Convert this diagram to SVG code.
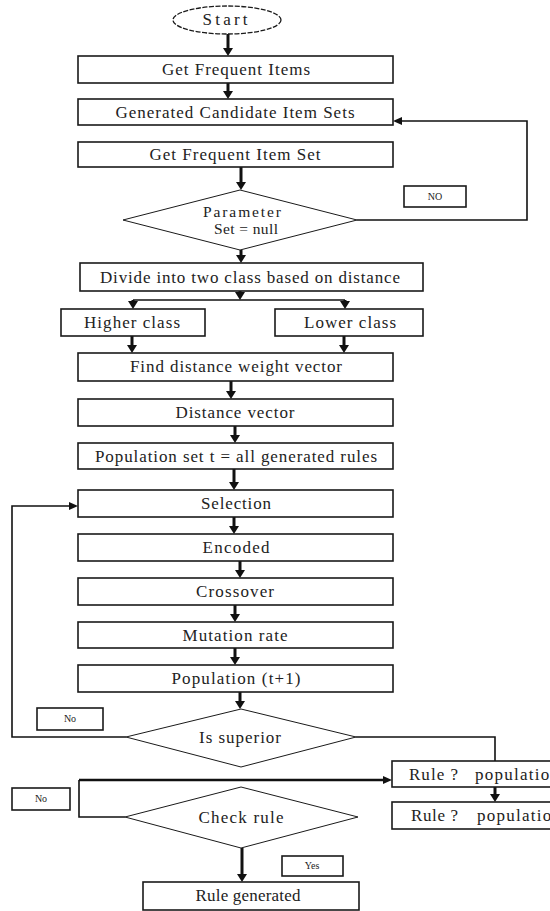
<svg xmlns="http://www.w3.org/2000/svg" width="550" height="911" viewBox="0 0 550 911">
<defs>
<style>
.box{fill:#fff;stroke:#1a1a1a;stroke-width:1.6}
.dia{fill:#fff;stroke:#1a1a1a;stroke-width:1}
.t{font-family:"Liberation Serif","Times New Roman",serif;font-size:17px;fill:#222;text-anchor:middle}
.m{font-size:15.5px}
.s{font-size:10px}
.l{text-anchor:start}
.arr{stroke:#111;stroke-width:3;fill:none}
.ln{stroke:#111;stroke-width:1.6;fill:none}
</style>
<marker id="ah" viewBox="0 0 8 10" markerWidth="8" markerHeight="10" refX="0" refY="5" orient="auto" markerUnits="userSpaceOnUse">
<path d="M0,0 L8,5 L0,10 z" fill="#111"/>
</marker>
<marker id="ah2" viewBox="0 0 9 8" markerWidth="9" markerHeight="8" refX="0" refY="4" orient="auto" markerUnits="userSpaceOnUse">
<path d="M0,0 L9,4 L0,8 z" fill="#111"/>
</marker>
</defs>
<rect width="550" height="911" fill="#fff"/>

<g id="connectors">
<line class="arr" x1="228" y1="34" x2="228" y2="48" marker-end="url(#ah)"/>
<line class="arr" x1="228" y1="83" x2="228" y2="91" marker-end="url(#ah)"/>
<line class="arr" x1="241" y1="167" x2="241" y2="182" marker-end="url(#ah)"/>
<polyline class="ln" points="357,220 527,220 527,121 402,121" marker-end="url(#ah2)"/>
<line class="arr" x1="241" y1="250" x2="241" y2="255" marker-end="url(#ah)"/>
<line class="arr" x1="240" y1="291" x2="240" y2="292" marker-end="url(#ah)"/>
<line class="ln" x1="133" y1="300" x2="345" y2="300"/>
<line class="arr" x1="133" y1="300" x2="133" y2="301" marker-end="url(#ah)"/>
<line class="arr" x1="345" y1="300" x2="345" y2="301" marker-end="url(#ah)"/>
<line class="arr" x1="132" y1="336" x2="132" y2="345" marker-end="url(#ah)"/>
<line class="arr" x1="344" y1="336" x2="344" y2="345" marker-end="url(#ah)"/>
<line class="arr" x1="231" y1="381" x2="231" y2="391" marker-end="url(#ah)"/>
<line class="arr" x1="235" y1="426" x2="235" y2="435" marker-end="url(#ah)"/>
<line class="arr" x1="234" y1="469" x2="234" y2="482" marker-end="url(#ah)"/>
<line class="arr" x1="234" y1="517" x2="234" y2="526" marker-end="url(#ah)"/>
<line class="arr" x1="240" y1="561" x2="240" y2="570" marker-end="url(#ah)"/>
<line class="arr" x1="235" y1="605" x2="235" y2="614" marker-end="url(#ah)"/>
<line class="arr" x1="235" y1="648" x2="235" y2="657" marker-end="url(#ah)"/>
<line class="arr" x1="240" y1="692" x2="240" y2="701" marker-end="url(#ah)"/>
<polyline class="ln" points="126,737 12,737 12,506 69,506" marker-end="url(#ah2)"/>
<polyline class="ln" points="356,737 495,737 495,761"/>
<line class="arr" x1="495" y1="787" x2="495" y2="794" marker-end="url(#ah)"/>
<polyline class="ln" points="125,817 79,817 79,780"/>
<line class="arr" x1="79" y1="780" x2="383" y2="780" style="stroke-width:2.4" marker-end="url(#ah2)"/>
<line class="arr" x1="242" y1="848" x2="242" y2="874" marker-end="url(#ah)"/>
</g>

<g id="start">
<ellipse cx="227" cy="20" rx="54" ry="14" fill="#fff" stroke="#1a1a1a" stroke-width="1.3" stroke-dasharray="5 1.5"/>
<text class="t" x="225" y="25" textLength="45" lengthAdjust="spacing">Start</text>
</g>
<g id="get-frequent-items">
<rect class="box" x="78" y="56" width="315" height="27"/>
<text class="t" x="236" y="75" textLength="148" lengthAdjust="spacing">Get Frequent Items</text>
</g>
<g id="generated-candidate">
<rect class="box" x="78" y="99" width="315" height="26"/>
<text class="t" x="235" y="118" textLength="239" lengthAdjust="spacing">Generated Candidate Item Sets</text>
</g>
<g id="get-frequent-item-set">
<rect class="box" x="78" y="142" width="315" height="25"/>
<text class="t" x="235" y="160" textLength="171" lengthAdjust="spacing">Get Frequent Item Set</text>
</g>
<g id="parameter">
<polygon class="dia" points="240,190 357,220 240,250 123,220"/>
<text class="t m" x="242" y="217" textLength="78" lengthAdjust="spacing">Parameter</text>
<text class="t m" x="246" y="234" textLength="64" lengthAdjust="spacing">Set = null</text>
</g>
<g id="no-label-1">
<rect class="box" x="404" y="186" width="62" height="21"/>
<text class="t s" x="435" y="200">NO</text>
</g>
<g id="divide">
<rect class="box" x="80" y="263" width="343" height="28"/>
<text class="t" x="250" y="283" textLength="300" lengthAdjust="spacing">Divide into two class based on distance</text>
</g>
<g id="higher-class">
<rect class="box" x="61" y="309" width="144" height="27"/>
<text class="t" x="132" y="328" textLength="96" lengthAdjust="spacing">Higher class</text>
</g>
<g id="lower-class">
<rect class="box" x="275" y="309" width="148" height="27"/>
<text class="t" x="350" y="328" textLength="92" lengthAdjust="spacing">Lower class</text>
</g>
<g id="find-distance">
<rect class="box" x="78" y="353" width="315" height="28"/>
<text class="t" x="236" y="372" textLength="212" lengthAdjust="spacing">Find distance weight vector</text>
</g>
<g id="distance-vector">
<rect class="box" x="78" y="399" width="315" height="27"/>
<text class="t" x="235" y="418" textLength="119" lengthAdjust="spacing">Distance vector</text>
</g>
<g id="population-set">
<rect class="box" x="78" y="443" width="315" height="26"/>
<text class="t" x="236" y="462" textLength="282" lengthAdjust="spacing">Population set t = all generated rules</text>
</g>
<g id="selection">
<rect class="box" x="78" y="490" width="315" height="27"/>
<text class="t" x="236" y="509" textLength="70" lengthAdjust="spacing">Selection</text>
</g>
<g id="encoded">
<rect class="box" x="78" y="534" width="315" height="27"/>
<text class="t" x="236" y="553" textLength="67" lengthAdjust="spacing">Encoded</text>
</g>
<g id="crossover">
<rect class="box" x="78" y="578" width="315" height="27"/>
<text class="t" x="235" y="597" textLength="78" lengthAdjust="spacing">Crossover</text>
</g>
<g id="mutation-rate">
<rect class="box" x="78" y="622" width="315" height="26"/>
<text class="t" x="235" y="641" textLength="105" lengthAdjust="spacing">Mutation rate</text>
</g>
<g id="population-t1">
<rect class="box" x="78" y="665" width="315" height="27"/>
<text class="t" x="236" y="684" textLength="129" lengthAdjust="spacing">Population (t+1)</text>
</g>
<g id="no-label-2">
<rect class="box" x="37" y="708" width="66" height="22"/>
<text class="t s" x="70" y="722">No</text>
</g>
<g id="is-superior">
<polygon class="dia" points="241,709 356,737 241,767 126,737"/>
<text class="t" x="240" y="743" textLength="82" lengthAdjust="spacing">Is superior</text>
</g>
<g id="rule-population-1">
<rect class="box" x="392" y="761" width="170" height="26"/>
<text class="t l" x="409" y="780" textLength="49" lengthAdjust="spacing">Rule ?</text>
<text class="t l" x="475" y="780" textLength="84" lengthAdjust="spacing">population</text>
</g>
<g id="rule-population-2">
<rect class="box" x="392" y="802" width="170" height="27"/>
<text class="t l" x="411" y="821" textLength="47" lengthAdjust="spacing">Rule ?</text>
<text class="t l" x="477" y="821" textLength="84" lengthAdjust="spacing">population</text>
</g>
<g id="no-label-3">
<rect class="box" x="12" y="788" width="58" height="22"/>
<text class="t s" x="41" y="802">No</text>
</g>
<g id="check-rule">
<polygon class="dia" points="241,787 358,817 241,848 125,817"/>
<text class="t" x="241" y="823" textLength="85" lengthAdjust="spacing">Check rule</text>
</g>
<g id="yes-label">
<rect class="box" x="282" y="856" width="61" height="20"/>
<text class="t s" x="312" y="869">Yes</text>
</g>
<g id="rule-generated">
<rect class="box" x="143" y="882" width="216" height="28"/>
<text class="t" x="248" y="901" textLength="105" lengthAdjust="spacing">Rule generated</text>
</g>
</svg>
